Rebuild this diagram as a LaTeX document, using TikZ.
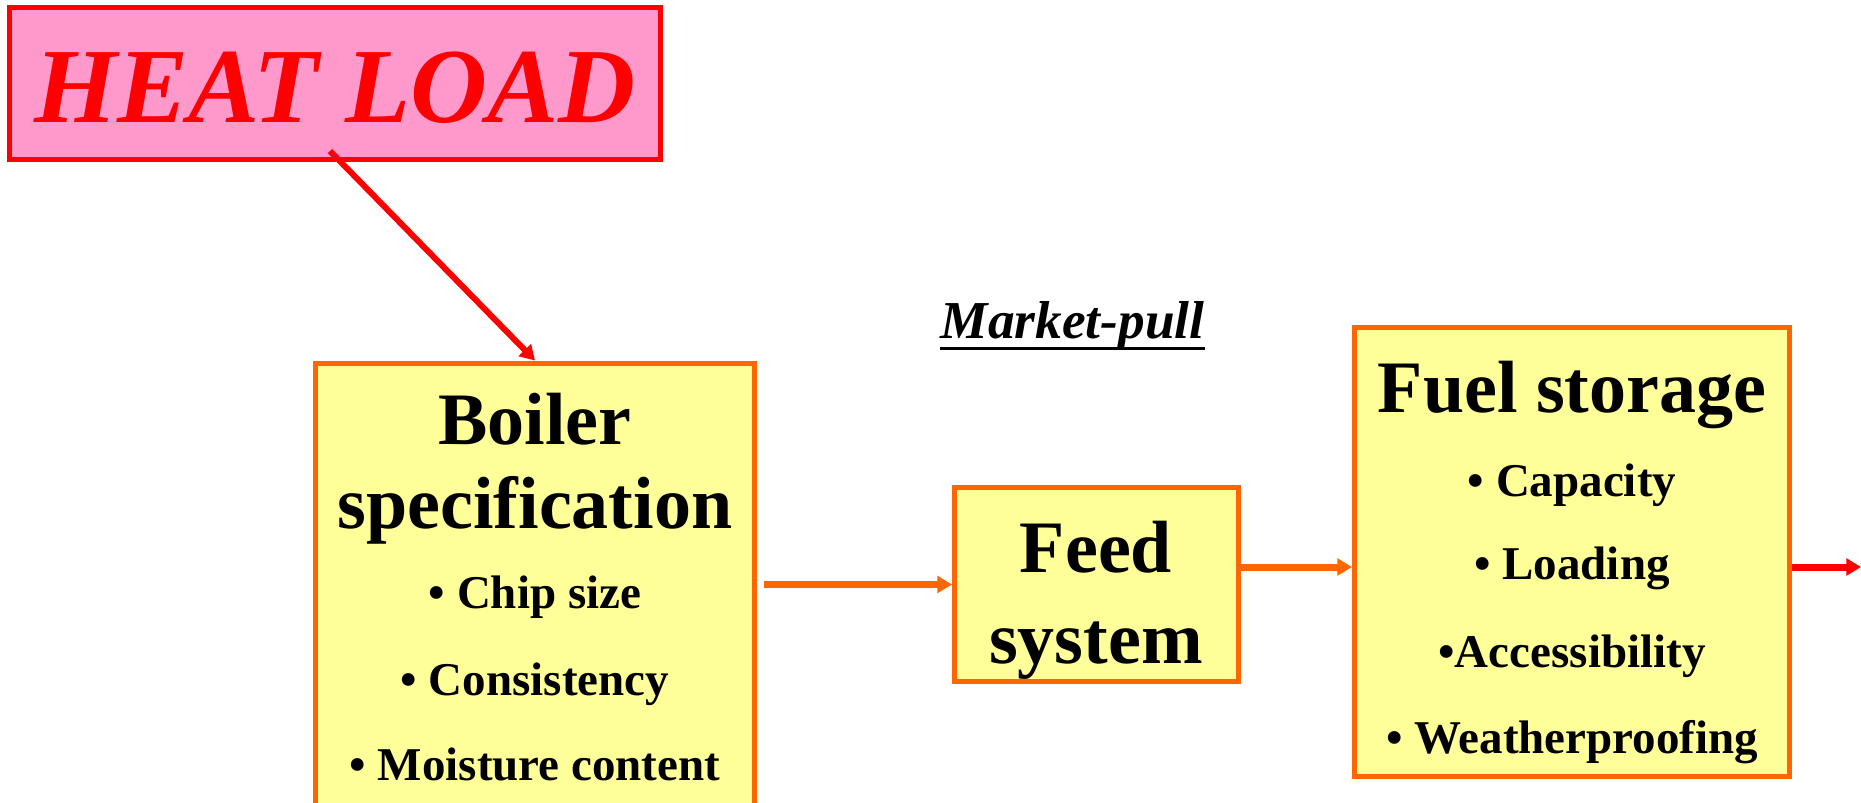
\documentclass[tikz,border=0pt]{standalone}
\usepackage{fontspec}
\setmainfont{Liberation Serif}
\usepackage{xcolor}
\usepackage{tikz}
\usetikzlibrary{arrows.meta,calc}

\definecolor{heatpink}{RGB}{255,153,204}
\definecolor{boxyellow}{RGB}{255,255,153}
\definecolor{flame}{RGB}{255,102,0}

\tikzset{
  heatbox/.style={draw=red, fill=heatpink, line width=3.75pt, inner sep=0pt},
  stagebox/.style={draw=flame, fill=boxyellow, line width=3.75pt, inner sep=0pt},
  headtxt/.style={anchor=base, inner sep=0pt, font=\fontsize{55.5}{60}\selectfont\bfseries},
  itemtxt/.style={anchor=base, inner sep=0pt, font=\fontsize{35.25}{40}\selectfont\bfseries},
  flow/.style={draw=flame, line width=5.25pt, -{Triangle[length=11pt,width=12.5pt]}},
  hot/.style={draw=red, line width=5.25pt, -{Triangle[length=11pt,width=12.5pt]}},
}

\begin{document}
\begin{tikzpicture}[x=0.75pt,y=0.75pt,yscale=-1,xscale=1]
\useasboundingbox (0,0) rectangle (1861,803);
\clip (0,0) rectangle (1861,803);

%Shape: Rectangle 
\node [heatbox, minimum width=487.9pt, minimum height=114pt, text height=59pt,
  text=red, font=\fontsize{80}{90}\selectfont\bfseries\itshape] (heat) at (335.25,83.5) {HEAT LOAD};
%Shape: Rectangle 
\node [stagebox, anchor=north, minimum width=329.25pt, minimum height=352pt] (boiler) at (535,360.5) {};
%Shape: Rectangle 
\node [stagebox, minimum width=213pt, minimum height=145.5pt] (feed) at (1096.5,584.5) {};
%Shape: Rectangle 
\node [stagebox, minimum width=326.25pt, minimum height=336.75pt] (fuel) at (1572,552) {};

% Text Node
\draw (535,444) node [headtxt] (boilerhd) {Boiler};
\draw (535,528) node [headtxt] (boilerhd2) {specification};
\draw (535,608) node [itemtxt] (chip) {• Chip size};
\draw (535,695) node [itemtxt] (consist) {• Consistency};
\draw (535,780) node [itemtxt] (moist) {• Moisture content};
% Text Node
\draw (1096,572) node [headtxt] (feedhd) {Feed};
\draw (1096,663) node [headtxt] (feedhd2) {system};
% Text Node
\draw (1572,412) node [headtxt] (fuelhd) {Fuel storage};
\draw (1572,496) node [itemtxt] (capac) {• Capacity};
\draw (1572,579) node [itemtxt] (loading) {• Loading};
\draw (1572,667) node [itemtxt] (access) {•Accessibility};
\draw (1572,753) node [itemtxt] (weather) {• Weatherproofing};
% Text Node
\draw (1072.5,338) node [anchor=base, inner sep=0pt, font=\fontsize{40}{44}\selectfont\bfseries\itshape] (mkt) {Market-pull};
\draw [line width=2.25pt] ($(mkt.base west)+(0,10.5)$) -- ($(mkt.base east)+(0,10.5)$);

%Straight Lines 
\coordinate (heatout) at (330,151);
\draw [hot, line width=4.5pt] (heatout) -- (boiler.north);
%Straight Lines 
\draw [flow, shorten <=5.25pt] (boiler.east |- feed.west) -- (feed.west);
%Straight Lines 
\coordinate (feedout) at ($(feed.east)+(0,-17.5)$);
\draw [flow] (feedout) -- (fuel.west |- feedout);
%Straight Lines 
\coordinate (fuelout) at (1861,567);
\draw [hot] (fuel.east |- fuelout) -- (fuelout);

\end{tikzpicture}
\end{document}
